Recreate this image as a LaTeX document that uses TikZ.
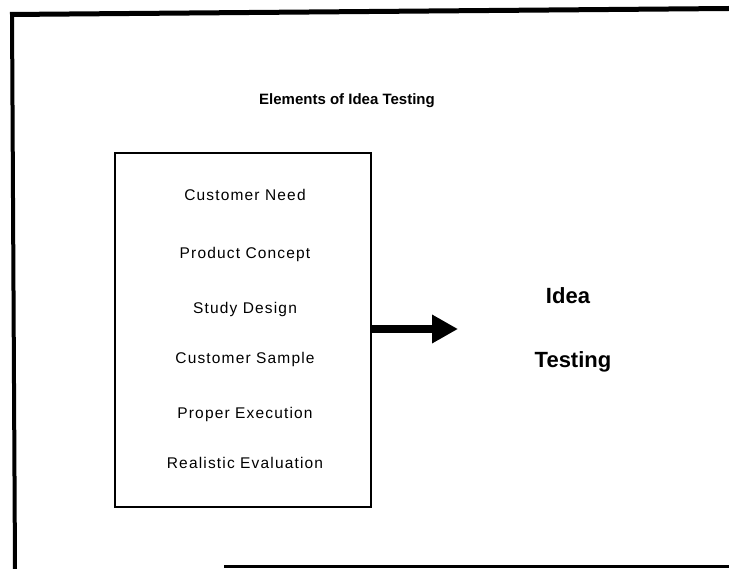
\documentclass[tikz,border=0pt]{standalone}
\usepackage{fontspec}
\setmainfont{Liberation Sans}
\newfontfamily\itemfont[LetterSpace=7.5]{Liberation Sans}
\usetikzlibrary{arrows.meta}
\tikzset{
  itemtext/.style={anchor=base, inner sep=0pt, font=\itemfont\fontsize{15.5}{18}\selectfont},
  titletext/.style={anchor=base, inner sep=0pt, font=\bfseries\fontsize{15}{18}\selectfont},
  bigtext/.style={anchor=base, inner sep=0pt, font=\bfseries\fontsize{22}{26}\selectfont},
  listbox/.style={draw, line width=1.3pt, inner sep=0pt},
  framebar/.style={line width=#1, line cap=butt},
  fatarrow/.style={line width=8pt, -{Triangle[length=26pt,width=27pt]}}
}
\begin{document}
\begin{tikzpicture}[x=1pt,y=-1pt]
\useasboundingbox (0,0) rectangle (729,569);
% outer frame (partial)
\draw[framebar=5pt] (729,8.5) -- (10,14.5);
\draw[framebar=4pt] (12,12.5) -- (15,569);
\draw[framebar=3pt] (224,566.5) -- (729,566.5);
% title
\node[titletext] (title) at (347,104.5) {Elements of Idea Testing};
% list box
\node[listbox, minimum width=256pt, minimum height=354pt] (box) at (243,330) {};
\node[itemtext] (i1) at (245,200.5) {Customer Need};
\node[itemtext] (i2) at (245,258.5) {Product Concept};
\node[itemtext] (i3) at (245,313.5) {Study Design};
\node[itemtext] (i4) at (245,363.5) {Customer Sample};
\node[itemtext] (i5) at (245,418.5) {Proper Execution};
\node[itemtext] (i6) at (245,468.5) {Realistic Evaluation};
% arrow
\coordinate (tip) at (458,329);
\draw[fatarrow] (box.east |- tip) -- (tip);
% result
\node[bigtext] (idea) at (568,304) {Idea};
\node[bigtext] (testing) at (573,368) {Testing};
\end{tikzpicture}
\end{document}
